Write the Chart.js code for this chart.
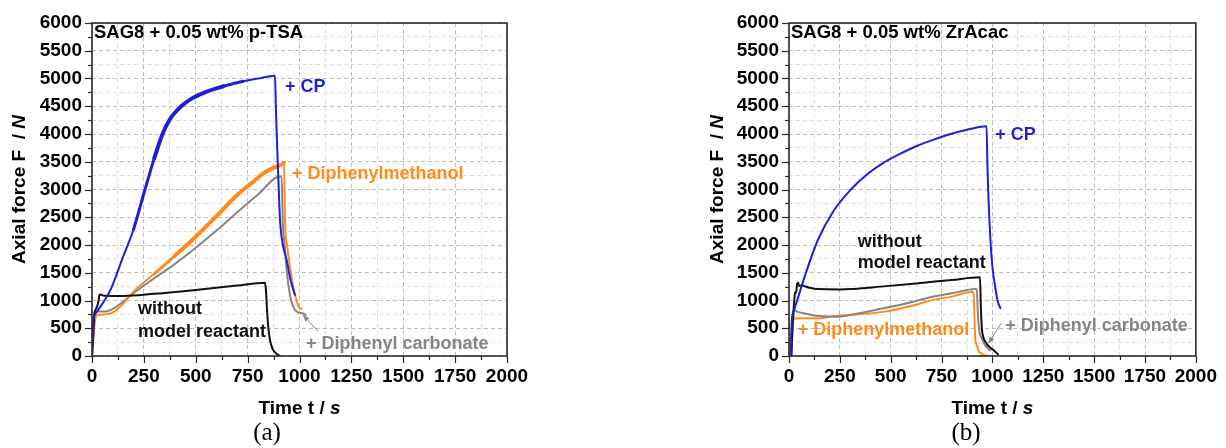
<!DOCTYPE html>
<html>
<head>
<meta charset="utf-8">
<script src="https://cdn.jsdelivr.net/npm/chart.js@4"></script>
<style>
  html, body { margin: 0; padding: 0; background: #fff; }
  #wrap { position: relative; width: 1226px; height: 448px; }
  .panel { position: absolute; top: 0; width: 613px; height: 448px; }
</style>
</head>
<body>
<div id="wrap">
  <div class="panel" style="left:0"><canvas id="chartA" width="613" height="448"></canvas></div>
  <div class="panel" style="left:613px"><canvas id="chartB" width="613" height="448"></canvas></div>
</div>
<script>
// axis tick labels (minor ticks sit halfway between these)
const timeTicks = [0, 250, 500, 750, 1000, 1250, 1500, 1750, 2000];
const forceTicks = [0, 500, 1000, 1500, 2000, 2500, 3000, 3500, 4000, 4500, 5000, 5500, 6000];

// (a) SAG8 + 0.05 wt% p-TSA
const tsaCpTime  = [0, 5, 15, 30, 60, 90, 150, 200, 255, 300, 340, 376, 430, 472, 550, 633, 729, 800, 882, 886, 892, 900, 906, 920, 938, 958, 978];
const tsaCpForce = [0, 600, 750, 830, 1000, 1200, 1790, 2280, 2995, 3560, 4000, 4270, 4500, 4620, 4760, 4860, 4950, 5000, 5050, 4500, 3800, 3000, 2450, 2000, 1730, 1350, 1100];

const tsaDpmTime  = [0, 8, 15, 25, 60, 100, 150, 200, 300, 400, 500, 600, 700, 780, 826, 880, 922, 926, 930, 940, 954, 975, 1002, 1010];
const tsaDpmForce = [0, 400, 650, 740, 750, 780, 940, 1160, 1480, 1810, 2150, 2520, 2900, 3150, 3290, 3400, 3465, 3480, 2450, 2000, 1610, 1150, 860, 850];

const tsaDpcTime  = [0, 8, 14, 30, 60, 100, 151, 199, 300, 400, 500, 600, 700, 800, 906, 914, 919, 930, 938, 954, 970, 990, 1018, 1030];
const tsaDpcForce = [0, 500, 790, 800, 800, 850, 980, 1127, 1400, 1660, 1950, 2260, 2590, 2910, 3235, 3235, 2450, 1950, 1550, 1100, 886, 790, 766, 736];

const tsaRefTime  = [0, 5, 12, 20, 32, 36, 60, 150, 300, 500, 700, 834, 838, 844, 850, 858, 870, 890, 906];
const tsaRefForce = [0, 300, 780, 850, 1000, 1110, 1085, 1080, 1120, 1190, 1270, 1320, 1200, 800, 500, 284, 130, 40, 0];

// (b) SAG8 + 0.05 wt% ZrAcac
const zrCpTime  = [8, 14, 22, 40, 77, 142, 222, 303, 383, 464, 545, 625, 705, 786, 880, 971, 975, 979, 990, 1000, 1011, 1025, 1039];
const zrCpForce = [0, 650, 800, 1000, 1430, 2090, 2630, 2995, 3270, 3480, 3640, 3780, 3890, 3990, 4080, 4140, 3500, 2995, 2100, 1600, 1310, 1000, 860];

const zrDpmTime  = [0, 8, 13, 21, 29, 60, 142, 214, 300, 464, 600, 705, 800, 903, 907, 912, 915, 925, 931, 950, 987];
const zrDpmForce = [0, 300, 405, 645, 676, 680, 676, 717, 740, 795, 900, 1007, 1070, 1157, 1130, 700, 343, 180, 103, 30, 0];

const zrDpcTime  = [10, 18, 22, 26, 29, 40, 77, 142, 222, 300, 464, 600, 705, 800, 915, 923, 928, 935, 950, 963, 987];
const zrDpcForce = [0, 500, 700, 830, 826, 800, 766, 720, 705, 740, 860, 970, 1066, 1130, 1205, 1200, 800, 464, 300, 200, 103];

const zrRefTime  = [12, 18, 26, 30, 35, 40, 45, 50, 61, 100, 142, 250, 303, 450, 625, 800, 939, 943, 948, 955, 970, 990, 1010, 1028];
const zrRefForce = [0, 600, 1000, 1150, 1140, 1300, 1320, 1260, 1270, 1230, 1205, 1200, 1205, 1250, 1308, 1370, 1417, 900, 500, 343, 230, 150, 90, 30];

const BLUE = '#1f1fd6', ORANGE = '#ff8c1a', GRAY = '#858585', BLACK = '#111111';
const SANS = '"Liberation Sans", Arial, sans-serif';

const pts = (ts, fs) => ts.map((t, i) => ({ x: t, y: fs[i] }));

// noisy stretches of a trace are drawn heavier
function series(label, ts, fs, color, thick) {
  const width = c => {
    if (!thick) return 2;
    const t = (c.p0.parsed.x + c.p1.parsed.x) / 2;
    if (t >= thick[1] && t <= thick[2]) return 4;
    if (t >= thick[0] && t <= thick[3]) return 3;
    return 2;
  };
  return {
    label, data: pts(ts, fs), borderColor: color, borderWidth: 2,
    borderCapStyle: 'round', borderJoinStyle: 'round',
    pointRadius: 0, cubicInterpolationMode: 'monotone', fill: false,
    segment: { borderWidth: width }
  };
}

// draws text made of runs with different fonts on one line
function drawRuns(ctx, runs, x, y, align) {
  let total = 0;
  runs.forEach(r => { ctx.font = r.font; total += ctx.measureText(r.text).width; });
  let cx = align === 'center' ? x - total / 2 : x;
  ctx.textAlign = 'left';
  ctx.textBaseline = 'middle';
  runs.forEach(r => {
    ctx.font = r.font;
    ctx.fillStyle = r.color || '#000';
    ctx.fillText(r.text, cx, y);
    cx += ctx.measureText(r.text).width;
  });
}

const framePlugin = {
  id: 'frame',
  afterDatasetsDraw(chart) {
    const { ctx, chartArea: a, scales } = chart;
    ctx.save();
    ctx.strokeStyle = '#2a2a2a';
    ctx.lineWidth = 1.2;
    scales.x.ticks.forEach(t => {
      const px = Math.round(scales.x.getPixelForValue(t.value)) + 0.5;
      const len = timeTicks.includes(t.value) ? 7 : 4;
      ctx.beginPath(); ctx.moveTo(px, a.bottom); ctx.lineTo(px, a.bottom + len); ctx.stroke();
    });
    scales.y.ticks.forEach(t => {
      const py = Math.round(scales.y.getPixelForValue(t.value)) + 0.5;
      const len = forceTicks.includes(t.value) ? 7 : 4;
      ctx.beginPath(); ctx.moveTo(a.left, py); ctx.lineTo(a.left - len, py); ctx.stroke();
    });
    ctx.lineWidth = 1.6;
    ctx.strokeRect(a.left, a.top, a.right - a.left, a.bottom - a.top);
    ctx.restore();
  }
};

const textPlugin = {
  id: 'texts',
  afterDraw(chart, args, o) {
    const { ctx, chartArea: a, scales } = chart;
    const X = v => scales.x.getPixelForValue(v);
    const Y = v => scales.y.getPixelForValue(v);
    const bold = '18px ' + SANS;
    ctx.save();
    // panel heading inside the frame
    drawRuns(ctx, [{ text: o.heading, font: 'bold 18.5px ' + SANS }], a.left + 2, a.top + 10, 'left');
    // curve labels, anchored in data space
    o.notes.forEach(n => drawRuns(ctx, [{ text: n.text, font: 'bold ' + bold, color: n.color }], X(n.t), Y(n.f), 'left'));
    // thin pointer to the carbonate curve
    const [t0, f0, t1, f1] = o.arrow;
    const x0 = X(t0), y0 = Y(f0), x1 = X(t1), y1 = Y(f1);
    ctx.strokeStyle = GRAY; ctx.fillStyle = GRAY; ctx.lineWidth = 1;
    ctx.beginPath(); ctx.moveTo(x0, y0); ctx.lineTo(x1, y1); ctx.stroke();
    const ang = Math.atan2(y1 - y0, x1 - x0);
    ctx.beginPath();
    ctx.moveTo(x1, y1);
    ctx.lineTo(x1 - 7 * Math.cos(ang - 0.4), y1 - 7 * Math.sin(ang - 0.4));
    ctx.lineTo(x1 - 7 * Math.cos(ang + 0.4), y1 - 7 * Math.sin(ang + 0.4));
    ctx.closePath(); ctx.fill();
    // axis titles
    const tf = 'bold 19px ' + SANS, ti = 'italic bold 19px ' + SANS;
    drawRuns(ctx, [{ text: 'Time t / ', font: tf }, { text: 's', font: ti }], (a.left + a.right) / 2, 409, 'center');
    ctx.save();
    ctx.translate(o.yTitleX, (a.top + a.bottom) / 2);
    ctx.rotate(-Math.PI / 2);
    drawRuns(ctx, [{ text: 'Axial force F  / ', font: tf }, { text: 'N', font: ti }], 0, 0, 'center');
    ctx.restore();
    // panel caption
    drawRuns(ctx, [{ text: o.caption, font: '25px "Liberation Serif", "Times New Roman", serif' }], o.captionX, 433, 'center');
    ctx.restore();
  }
};

function makeChart(id, datasets, yWidth, padRight, texts) {
  return new Chart(document.getElementById(id), {
    type: 'line',
    data: { datasets },
    plugins: [framePlugin, textPlugin],
    options: {
      responsive: false,
      animation: false,
      events: [],
      layout: { padding: { left: 0, right: padRight, top: 23, bottom: 0 } },
      plugins: { legend: { display: false }, tooltip: { enabled: false }, texts },
      scales: {
        x: {
          type: 'linear', min: 0, max: 2000,
          afterFit: s => { s.height = 92; },
          ticks: {
            stepSize: 125, autoSkip: false, maxRotation: 0, padding: 9, color: '#000',
            font: { family: SANS, size: 19, weight: 'bold' },
            callback: v => timeTicks.includes(v) ? String(v) : ''
          },
          grid: {
            drawTicks: false, lineWidth: 1,
            color: c => timeTicks.includes(c.tick.value) ? '#bdbdbd' : '#dedede'
          },
          border: { display: false, dash: [4, 3] }
        },
        y: {
          type: 'linear', min: 0, max: 6000,
          afterFit: s => { s.width = yWidth; },
          ticks: {
            stepSize: 250, autoSkip: false, padding: 10, color: '#000',
            font: { family: SANS, size: 19, weight: 'bold' },
            callback: v => forceTicks.includes(v) ? String(v) : ''
          },
          grid: {
            drawTicks: false, lineWidth: 1,
            color: c => forceTicks.includes(c.tick.value) ? '#bdbdbd' : '#dedede'
          },
          border: { display: false, dash: [4, 3] }
        }
      }
    }
  });
}

makeChart('chartA', [
  series('+ CP', tsaCpTime, tsaCpForce, BLUE, [220, 280, 660, 760]),
  series('without model reactant', tsaRefTime, tsaRefForce, BLACK),
  series('+ Diphenylmethanol', tsaDpmTime, tsaDpmForce, ORANGE, [300, 420, 927, 927]),
  series('+ Diphenyl carbonate', tsaDpcTime, tsaDpcForce, GRAY)
], 92, 106, {
  heading: 'SAG8 + 0.05 wt% p-TSA',
  notes: [
    { text: '+ CP', t: 930, f: 4855, color: BLUE },
    { text: '+ Diphenylmethanol', t: 964, f: 3284, color: ORANGE },
    { text: 'without', t: 222, f: 844, color: BLACK },
    { text: 'model reactant', t: 222, f: 428, color: BLACK },
    { text: '+ Diphenyl carbonate', t: 1031, f: 211, color: GRAY }
  ],
  arrow: [1089, 447, 1017, 736],
  yTitleX: 20, caption: '(a)', captionX: 267
});

makeChart('chartB', [
  series('+ CP', zrCpTime, zrCpForce, BLUE),
  series('without model reactant', zrRefTime, zrRefForce, BLACK),
  series('+ Diphenyl carbonate', zrDpcTime, zrDpcForce, GRAY),
  series('+ Diphenylmethanol', zrDpmTime, zrDpmForce, ORANGE)
], 176, 23, {
  heading: 'SAG8 + 0.05 wt% ZrAcac',
  notes: [
    { text: '+ CP', t: 1014, f: 3989, color: BLUE },
    { text: 'without', t: 338, f: 2055, color: BLACK },
    { text: 'model reactant', t: 338, f: 1675, color: BLACK },
    { text: '+ Diphenylmethanol', t: 43, f: 465, color: ORANGE },
    { text: '+ Diphenyl carbonate', t: 1063, f: 537, color: GRAY }
  ],
  arrow: [1043, 590, 981, 229],
  yTitleX: 105, caption: '(b)', captionX: 353
});
</script>
</body>
</html>
